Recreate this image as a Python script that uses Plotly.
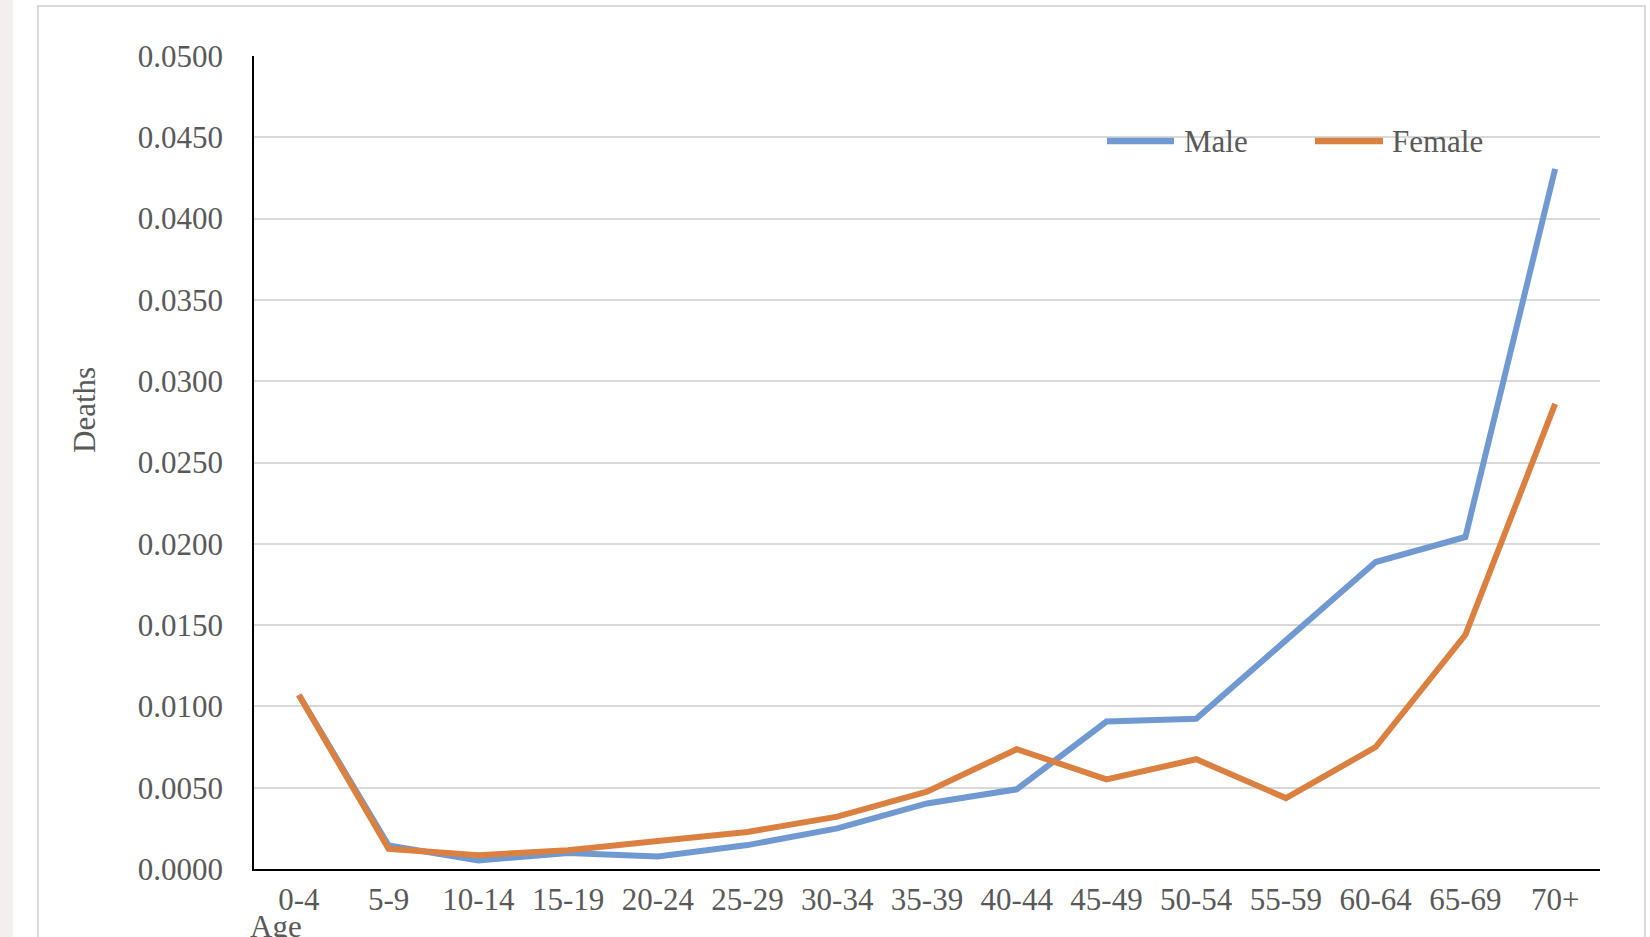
import plotly.graph_objects as go

# Age groups and death rates by sex
age_groups = ["0-4", "5-9", "10-14", "15-19", "20-24", "25-29", "30-34", "35-39",
              "40-44", "45-49", "50-54", "55-59", "60-64", "65-69", "70+"]
male = [0.0107, 0.00145, 0.00053, 0.00098, 0.00077, 0.00147, 0.0025, 0.00403,
        0.0049, 0.00907, 0.00924, 0.0140, 0.01888, 0.02042, 0.04306]
female = [0.0107, 0.00124, 0.00085, 0.00116, 0.00172, 0.00228, 0.00322, 0.00476,
          0.00737, 0.00551, 0.00675, 0.00436, 0.0075, 0.0144, 0.0286]
y_ticks = [0.0, 0.005, 0.01, 0.015, 0.02, 0.025, 0.03, 0.035, 0.04, 0.045, 0.05]

MALE_COLOR = "#7099D2"
FEMALE_COLOR = "#DA8040"
TEXT_COLOR = "#595959"
FONT = "Liberation Serif, Times New Roman, serif"
FS = 31

W, H = 1650, 937
L, R, T, B = 254, 1600, 56, 869  # plot area in pixels


def px(x):
    return (x - L) / (R - L)


def py(y):
    return (B - y) / (B - T)


fig = go.Figure()
fig.add_trace(go.Scatter(x=age_groups, y=male, mode="lines", name="Male",
                         line=dict(color=MALE_COLOR, width=6)))
fig.add_trace(go.Scatter(x=age_groups, y=female, mode="lines", name="Female",
                         line=dict(color=FEMALE_COLOR, width=6)))

shapes = [
    # page strip on the left and the chart frame
    dict(type="rect", xref="paper", yref="paper", x0=px(0), x1=px(13), y0=py(H + 5), y1=py(-5),
         line=dict(width=0), fillcolor="#F3EFEE", layer="below"),
    dict(type="rect", xref="paper", yref="paper", x0=px(38), x1=px(1645), y0=py(H + 10), y1=py(6),
         line=dict(color="#D9D9D9", width=2), fillcolor="rgba(0,0,0,0)", layer="below"),
    # legend swatches
    dict(type="line", xref="paper", yref="paper", x0=px(1107), x1=px(1174), y0=py(141), y1=py(141),
         line=dict(color=MALE_COLOR, width=6.5)),
    dict(type="line", xref="paper", yref="paper", x0=px(1315), x1=px(1383), y0=py(141), y1=py(141),
         line=dict(color=FEMALE_COLOR, width=6.5)),
]

annotations = [
    dict(text="Male", xref="paper", yref="paper", x=px(1182), y=py(141), xanchor="left",
         yanchor="middle", showarrow=False, font=dict(family=FONT, size=FS, color=TEXT_COLOR)),
    dict(text="Female", xref="paper", yref="paper", x=px(1390), y=py(141), xanchor="left",
         yanchor="middle", showarrow=False, font=dict(family=FONT, size=FS, color=TEXT_COLOR)),
    dict(text="Deaths", xref="paper", yref="paper", x=px(84), y=py(410), xanchor="center",
         yanchor="middle", textangle=-90, showarrow=False,
         font=dict(family=FONT, size=FS, color=TEXT_COLOR)),
    dict(text="Age", xref="paper", yref="paper", x=px(248), y=py(926), xanchor="left",
         yanchor="middle", showarrow=False, font=dict(family=FONT, size=FS, color=TEXT_COLOR)),
]

fig.update_layout(
    width=W, height=H,
    margin=dict(l=L, r=W - R, t=T, b=H - B, pad=0),
    paper_bgcolor="white", plot_bgcolor="white",
    showlegend=False,
    shapes=shapes,
    annotations=annotations,
    font=dict(family=FONT, size=FS, color=TEXT_COLOR),
)
fig.update_xaxes(
    type="category", range=[-0.5, len(age_groups) - 0.5],
    showgrid=False, showline=True, linecolor="black", linewidth=2,
    ticks="", ticklabelstandoff=2, tickfont=dict(family=FONT, size=FS, color=TEXT_COLOR),
    zeroline=False,
)
fig.update_yaxes(
    range=[0, 0.05], tickvals=y_ticks, tickformat=".4f",
    showgrid=True, gridcolor="#D9D9D9", gridwidth=2,
    showline=True, linecolor="black", linewidth=1.5,
    ticks="", ticklabelstandoff=23, tickfont=dict(family=FONT, size=FS, color=TEXT_COLOR),
    zeroline=False,
)

fig.write_html("out.html")
